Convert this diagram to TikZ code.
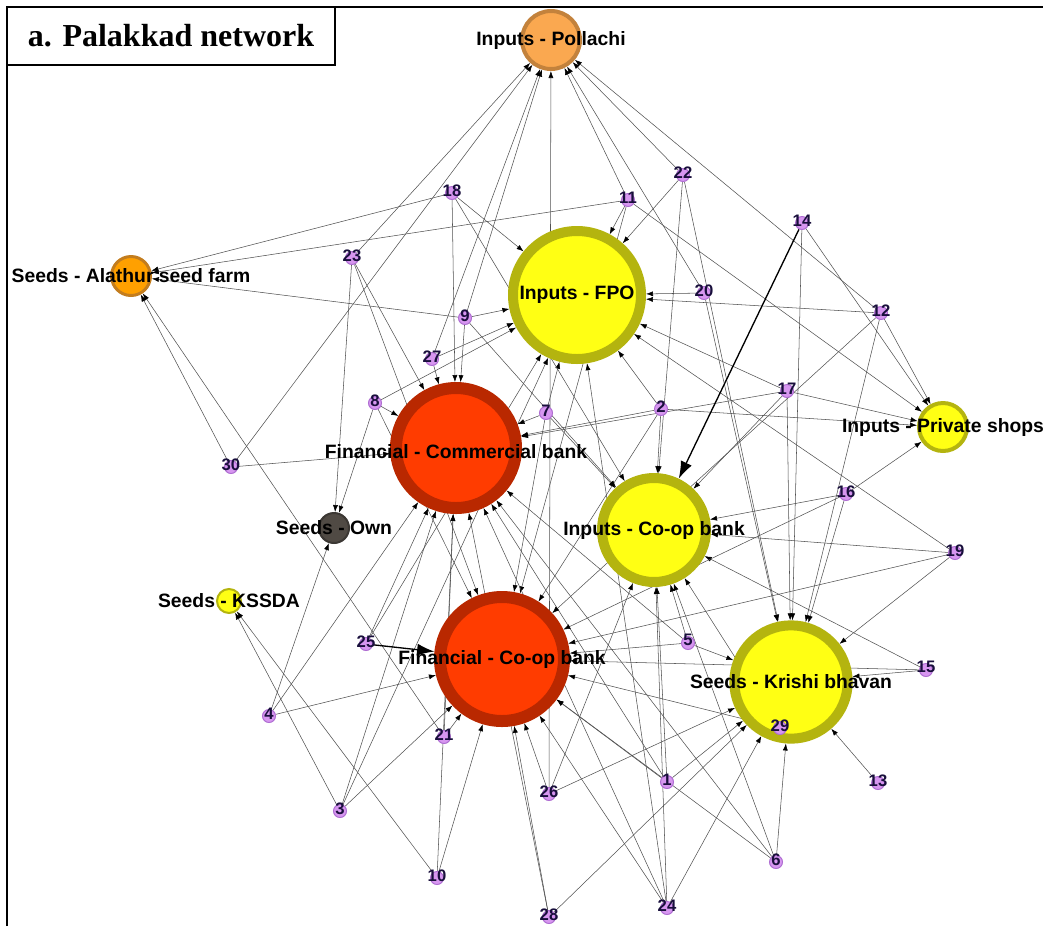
\documentclass[tikz,border=0pt]{standalone}
\usepackage{fontspec}
\setmainfont{Liberation Serif}
\setsansfont{Liberation Sans}
\usetikzlibrary{arrows.meta,backgrounds}

\definecolor{hubyellow}{RGB}{255,255,20}
\definecolor{hubolive}{RGB}{180,180,15}
\definecolor{hubred}{RGB}{255,60,0}
\definecolor{hubdarkred}{RGB}{185,40,0}
\definecolor{pollfill}{RGB}{250,168,80}
\definecolor{pollline}{RGB}{195,130,60}
\definecolor{alafill}{RGB}{255,160,0}
\definecolor{alaline}{RGB}{195,125,30}
\definecolor{ownfill}{RGB}{80,74,68}
\definecolor{ownline}{RGB}{60,56,52}
\definecolor{farmfill}{RGB}{215,150,240}
\definecolor{farmline}{RGB}{175,110,210}
\definecolor{numblue}{RGB}{25,15,60}
\definecolor{edgegray}{RGB}{80,80,80}

\tikzset{
    hub/.style={circle, inner sep=0pt},
    yellowhub/.style={hub, fill=hubyellow, draw=hubolive},
    redhub/.style={hub, fill=hubred, draw=hubdarkred, line width=9pt},
    farmer/.style={circle, inner sep=0pt, minimum size=9.75pt, fill=farmfill, draw=farmline, line width=0.75pt},
    hubtext/.style={font=\sffamily\bfseries\fontsize{14.5}{16}\selectfont},
    numtext/.style={font=\sffamily\bfseries\fontsize{12.5}{13}\selectfont, text=numblue, yshift=2pt, inner sep=0pt},
    edge/.style={-{Latex[length=5.25pt,width=3.75pt,black]}, draw=edgegray, line width=0.4pt},
    heavyedge/.style={-{Latex[length=13pt,width=9pt]}, draw=black, line width=1pt},
    titlebox/.style={draw, line width=1.5pt, minimum width=246pt, minimum height=43.5pt, font=\rmfamily\bfseries\fontsize{24}{26}\selectfont}
}

\begin{document}
\begin{tikzpicture}[x=0.75pt, y=-0.75pt]
    \useasboundingbox (0,0) rectangle (1043,926);
    \draw[line width=1.5pt] (7,926) -- (7,7) -- (1043,7);
    \node[titlebox] (title) at (171,36) {a. Palakkad network};

    % hubs
    \node[hub, fill=pollfill, draw=pollline, line width=3pt, minimum size=43.5pt, label={[hubtext]center:Inputs - Pollachi}] (pollachi) at (551,40) {};
    \node[yellowhub, line width=7.5pt, minimum size=96pt, label={[hubtext]center:Inputs - FPO}] (fpo) at (577,295) {};
    \node[redhub, minimum size=90pt, label={[hubtext, yshift=-3pt]center:Financial - Commercial bank}] (combank) at (456,448) {};
    \node[yellowhub, line width=7.5pt, minimum size=78pt, label={[hubtext]center:Inputs - Co-op bank}] (coopin) at (654,530) {};
    \node[redhub, minimum size=93pt, label={[hubtext]center:Financial - Co-op bank}] (coopfin) at (502,659) {};
    \node[yellowhub, line width=7.5pt, minimum size=85pt, label={[hubtext]center:Seeds - Krishi bhavan}] (krishi) at (791,682) {};
    \node[yellowhub, line width=3pt, minimum size=36pt, label={[hubtext]center:Inputs - Private shops}] (shops) at (943,427) {};
    \node[hub, fill=alafill, draw=alaline, line width=2.25pt, minimum size=29.25pt, label={[hubtext]center:Seeds - Alathur seed farm}] (alathur) at (131,276) {};
    \node[hub, fill=ownfill, draw=ownline, line width=1.5pt, minimum size=22.5pt, label={[hubtext]center:Seeds - Own}] (own) at (334,528) {};
    \node[yellowhub, line width=1.5pt, minimum size=18pt, label={[hubtext]center:Seeds - KSSDA}] (kssda) at (229,601) {};

    % farmers
    \foreach \n/\x/\y in {1/667/782, 2/661/409, 3/340/811, 4/269/716, 5/688/643,
        6/776/862, 7/546/413, 8/375/403, 9/465/318, 10/437/878, 11/628/200,
        12/881/313, 13/878/783, 14/802/223, 15/926/670, 16/846/494, 17/787/391,
        18/452/193, 19/955/553, 20/704/293, 21/444/737, 22/683/175, 23/352/258,
        24/667/908, 25/366/644, 26/549/794, 27/432/359, 28/549/917, 29/780/728,
        30/231/467}
        \node[farmer, label={[numtext]center:\n}] (f\n) at (\x,\y) {};

    \begin{scope}[on background layer]
        \foreach \a/\b in {f1/coopfin, f1/coopin, f1/krishi, f1/combank,
            f2/combank, f2/fpo, f2/coopin, f2/coopfin, f2/shops,
            f3/kssda, f3/combank, f3/coopfin, f3/fpo,
            f4/own, f4/combank, f4/coopfin,
            f5/coopfin, f5/coopin, f5/krishi, f5/combank,
            f6/krishi, f6/coopin, f6/coopfin, f6/combank,
            f7/fpo, f7/combank, f7/coopin, f7/coopfin,
            f8/fpo, f8/combank, f8/own, f8/coopfin,
            f9/alathur, f9/fpo, f9/combank, f9/pollachi, f9/coopin,
            f10/coopfin, f10/kssda, f10/combank,
            f11/alathur, f11/pollachi, f11/fpo, f11/shops, f11/coopfin,
            f12/fpo, f12/shops, f12/pollachi, f12/krishi, f12/coopfin,
            f13/krishi,
            f14/shops, f14/krishi,
            f15/krishi, f15/coopfin, f15/coopin,
            f16/coopin, f16/shops, f16/coopfin, f16/krishi,
            f17/shops, f17/fpo, f17/coopin, f17/krishi, f17/combank,
            f18/alathur, f18/fpo, f18/combank, f18/coopin,
            f19/coopin, f19/coopfin, f19/krishi, f19/fpo,
            f20/fpo, f20/krishi, f20/pollachi,
            f21/coopfin, f21/alathur, f21/combank,
            f22/pollachi, f22/fpo, f22/coopin, f22/krishi,
            f23/pollachi, f23/own, f23/combank, f23/coopfin,
            f24/krishi, f24/coopfin, f24/combank, f24/coopin, f24/fpo,
            f25/combank, f25/fpo,
            f26/coopfin, f26/krishi, f26/pollachi, f26/coopin,
            f27/fpo, f27/combank, f27/pollachi,
            f28/coopfin, f28/krishi, f28/combank,
            f29/coopfin, f29/coopin,
            f30/pollachi, f30/combank, f30/alathur}
            \draw[edge] (\a) -- (\b);
        \draw[heavyedge] (f14) -- (coopin);
        \draw[heavyedge] (f25) -- (coopfin);
    \end{scope}
\end{tikzpicture}
\end{document}
